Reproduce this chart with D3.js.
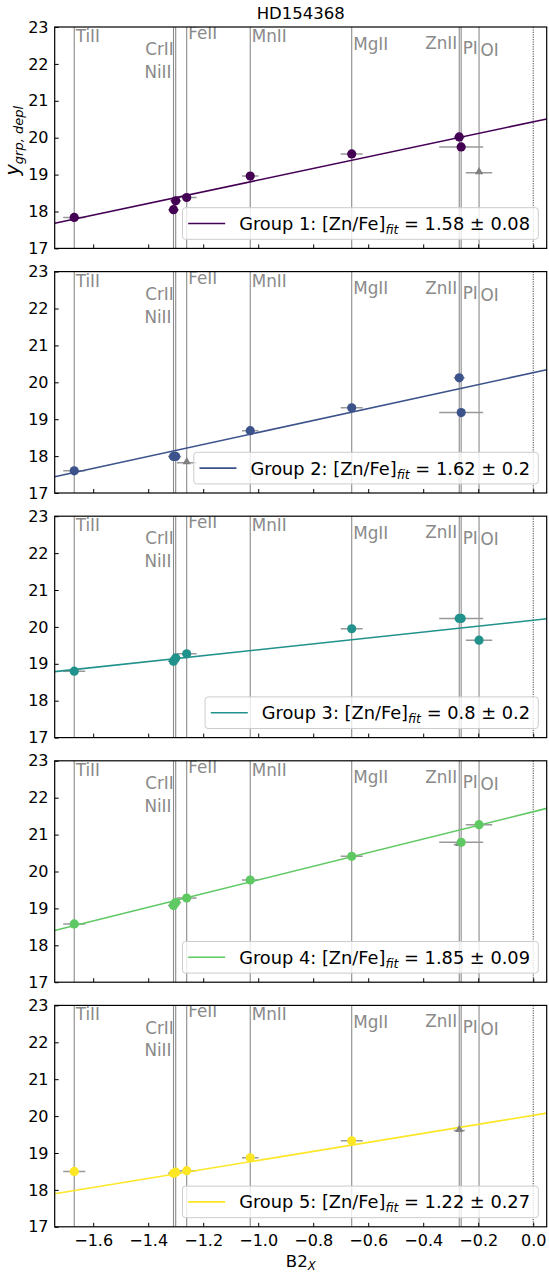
<!DOCTYPE html>
<html>
<head>
<meta charset="utf-8">
<script src="https://cdn.jsdelivr.net/npm/d3@7"></script>
<style>
  body { margin: 0; background: #fff; }
  svg { display: block; }
  text { font-family: "DejaVu Sans", sans-serif; }
</style>
</head>
<body>
<svg id="chart" width="549" height="1274"></svg>
<script>
// Element transitions and their depletion coefficient B2_X
const elements   = ["TiII", "CrII", "NiII", "FeII", "MnII", "MgII", "ZnII", "PI", "OI"];
const b2x        = [-1.669, -1.300, -1.308, -1.260, -1.029, -0.660, -0.269, -0.262, -0.197];
const b2xErr     = [0.04, 0.02, 0.02, 0.036, 0.03, 0.04, 0.02, 0.08, 0.048];
const labelY     = [22.76, 22.40, 21.78, 22.84, 22.76, 22.55, 22.57, 22.42, 22.37];
const labelAlign = ["start", "end", "end", "start", "start", "start", "end", "start", "start"];

// Depletion-corrected column densities per velocity group (null = not measured)
const group1Y = [17.84, 18.29, 18.05, 18.38, 18.96, 19.56, 20.02, 19.75, null];
const group2Y = [17.60, 17.99, 17.99, null, 18.69, 19.31, 20.12, 19.18, null];
const group3Y = [18.80, 19.16, 19.07, 19.27, null, 19.95, 20.23, 20.23, 19.64];
const group4Y = [18.58, 19.16, 19.08, 19.28, 19.77, 20.41, null, 20.79, 21.27];
const group5Y = [18.50, 18.48, 18.45, 18.52, 18.87, 19.33, null, null, null];

// Limits (drawn as grey triangles)
const group1Lim = [null, null, null, null, null, null, null, null, 19.05];
const group2Lim = [null, null, null, 17.82, null, null, null, null, null];
const group3Lim = [null, null, null, null, null, null, null, null, null];
const group4Lim = [null, null, null, null, null, null, 20.73, null, null];
const group5Lim = [null, null, null, null, null, null, 19.61, null, null];

// Linear fits: slope = [Zn/Fe]_fit, intercept at B2_X = 0
const groupNames   = ["Group 1", "Group 2", "Group 3", "Group 4", "Group 5"];
const groupColors  = ["#440154", "#3b528b", "#21918c", "#5ec962", "#fde725"];
const znFeFit      = [1.58, 1.62, 0.8, 1.85, 1.22];
const znFeErr      = [0.08, 0.2, 0.2, 0.09, 0.27];
const fitIntercept = [20.43, 20.26, 20.18, 21.62, 20.02];

const yTicks = [17, 18, 19, 20, 21, 22, 23];
const xTicks = [-1.6, -1.4, -1.2, -1.0, -0.8, -0.6, -0.4, -0.2, 0.0];

const groupY   = [group1Y, group2Y, group3Y, group4Y, group5Y];
const groupLim = [group1Lim, group2Lim, group3Lim, group4Lim, group5Lim];

const svg = d3.select("#chart");

const left = 54.7, right = 546.7;
const firstTop = 27, panelH = 221.4, stride = 244.6;

const x = d3.scaleLinear().domain([-1.740, 0.049]).range([left, right]);

const grey = "#8a8a8a";

// Title
svg.append("text")
  .attr("x", (left + right) / 2).attr("y", 18.5)
  .attr("text-anchor", "middle")
  .attr("font-size", 16.5)
  .attr("fill", "#000")
  .text("HD154368");

groupNames.forEach((name, g) => {
  const top = firstTop + g * stride;
  const bottom = top + panelH;
  const y = d3.scaleLinear().domain([17, 23]).range([bottom, top]);
  const panel = svg.append("g");

  const clipId = "clip" + g;
  panel.append("clipPath").attr("id", clipId)
    .append("rect").attr("x", left).attr("y", top)
    .attr("width", right - left).attr("height", panelH);

  const plot = panel.append("g").attr("clip-path", `url(#${clipId})`);

  // Vertical reference lines at each element's B2_X
  plot.selectAll("line.elem").data(b2x).join("line")
    .attr("class", "elem")
    .attr("x1", d => x(d)).attr("x2", d => x(d))
    .attr("y1", top).attr("y2", bottom)
    .attr("stroke", grey).attr("stroke-width", 1.1);

  // Dotted line at B2_X = 0
  plot.append("line")
    .attr("x1", x(0)).attr("x2", x(0))
    .attr("y1", top).attr("y2", bottom)
    .attr("stroke", "#444").attr("stroke-width", 1)
    .attr("stroke-dasharray", "1.2,1.2");

  // Element labels
  plot.selectAll("text.elem").data(elements).join("text")
    .attr("class", "elem")
    .attr("x", (d, i) => x(b2x[i]) + (labelAlign[i] === "start" ? 1.5 : -2))
    .attr("y", (d, i) => y(labelY[i]))
    .attr("dy", "0.36em")
    .attr("text-anchor", (d, i) => labelAlign[i])
    .attr("font-size", 16.8)
    .attr("fill", grey)
    .text(d => d);

  const pts = [];
  groupY[g].forEach((v, i) => { if (v !== null) pts.push({ i, v, lim: false }); });
  groupLim[g].forEach((v, i) => { if (v !== null) pts.push({ i, v, lim: true }); });

  // Horizontal error bars
  plot.selectAll("line.err").data(pts).join("line")
    .attr("class", "err")
    .attr("x1", d => x(b2x[d.i] - b2xErr[d.i]))
    .attr("x2", d => x(b2x[d.i] + b2xErr[d.i]))
    .attr("y1", d => y(d.v)).attr("y2", d => y(d.v))
    .attr("stroke", "#999").attr("stroke-width", 1.5);

  // Fit line
  const dom = x.domain();
  plot.append("line")
    .attr("x1", x(dom[0])).attr("y1", y(fitIntercept[g] + znFeFit[g] * dom[0]))
    .attr("x2", x(dom[1])).attr("y2", y(fitIntercept[g] + znFeFit[g] * dom[1]))
    .attr("stroke", groupColors[g]).attr("stroke-width", 1.6);

  // Limits
  const tri = d3.symbol().type(d3.symbolTriangle).size(30);
  plot.selectAll("path.lim").data(pts.filter(d => d.lim)).join("path")
    .attr("class", "lim")
    .attr("d", tri)
    .attr("transform", d => `translate(${x(b2x[d.i])},${y(d.v) - 1})`)
    .attr("fill", "#808080");

  // Measurements
  plot.selectAll("circle.pt").data(pts.filter(d => !d.lim)).join("circle")
    .attr("class", "pt")
    .attr("cx", d => x(b2x[d.i])).attr("cy", d => y(d.v))
    .attr("r", 4.6)
    .attr("fill", groupColors[g]);

  // Axes
  const yAxis = d3.axisLeft(y).tickValues(yTicks).tickFormat(d3.format("d"))
    .tickSizeInner(-4).tickSizeOuter(0).tickPadding(6.2);
  const yg = panel.append("g").attr("transform", `translate(${left},0)`).call(yAxis);
  yg.select(".domain").remove();
  yg.selectAll("text").attr("font-size", 16).attr("fill", "#000").attr("font-family", "DejaVu Sans");
  yg.selectAll("line").attr("stroke", "#000");

  const xAxis = d3.axisBottom(x).tickValues(xTicks).tickFormat(d3.format(".1f"))
    .tickSizeInner(-4).tickSizeOuter(0).tickPadding(8);
  const xg = panel.append("g").attr("transform", `translate(0,${bottom})`).call(xAxis);
  xg.select(".domain").remove();
  xg.selectAll("line").attr("stroke", "#000");
  if (g < groupNames.length - 1) {
    xg.selectAll("text").remove();
  } else {
    xg.selectAll("text").attr("font-size", 16).attr("fill", "#000")
      .attr("font-family", "DejaVu Sans").attr("dy", "0.71em");
  }

  // Frame
  panel.append("rect")
    .attr("x", left).attr("y", top)
    .attr("width", right - left).attr("height", panelH)
    .attr("fill", "none").attr("stroke", "#000").attr("stroke-width", 1.2);

  // Legend (lower right)
  const lg = panel.append("g");
  const box = lg.append("rect");
  const legMid = bottom - 24.9;
  const lt = lg.append("text")
    .attr("y", legMid).attr("dy", "0.36em")
    .attr("font-size", 17.8).attr("fill", "#000");
  lt.append("tspan").text(`${name}: [Zn/Fe]`);
  lt.append("tspan").attr("font-style", "italic").attr("font-size", 12.5).attr("dy", 4).text("fit");
  lt.append("tspan").attr("dy", -4).text(` = ${znFeFit[g]} \u00b1 ${znFeErr[g]}`);
  const tw = lt.node().getComputedTextLength();
  const textEnd = right - 16.7;
  const textStart = textEnd - tw;
  lt.attr("x", textStart);
  const hEnd = textStart - 14, hStart = hEnd - 37;
  lg.append("line")
    .attr("x1", hStart).attr("x2", hEnd)
    .attr("y1", legMid).attr("y2", legMid)
    .attr("stroke", groupColors[g]).attr("stroke-width", 1.6);
  box.attr("x", hStart - 5.7).attr("y", legMid - 15.8)
    .attr("width", (right - 8.4) - (hStart - 5.7)).attr("height", 31.6)
    .attr("rx", 3).attr("ry", 3)
    .attr("fill", "#fff").attr("fill-opacity", 0.8)
    .attr("stroke", "#cccccc").attr("stroke-width", 1);

  // y-axis label on first panel
  if (g === 0) {
    const yl = svg.append("text")
      .attr("transform", `translate(19,${(top + bottom) / 2 + 3}) rotate(-90)`)
      .attr("text-anchor", "middle")
      .attr("font-size", 19).attr("font-style", "italic").attr("fill", "#000");
    yl.append("tspan").text("y");
    yl.append("tspan").attr("font-size", 13).attr("dy", 4).text("grp, depl");
  }
});

// x-axis label
const xl = svg.append("text")
  .attr("x", (left + right) / 2).attr("y", 1267)
  .attr("text-anchor", "middle")
  .attr("font-size", 16.5).attr("fill", "#000");
xl.append("tspan").text("B2");
xl.append("tspan").attr("font-size", 11.5).attr("font-style", "italic").attr("dy", 3).text("X");
</script>
</body>
</html>
